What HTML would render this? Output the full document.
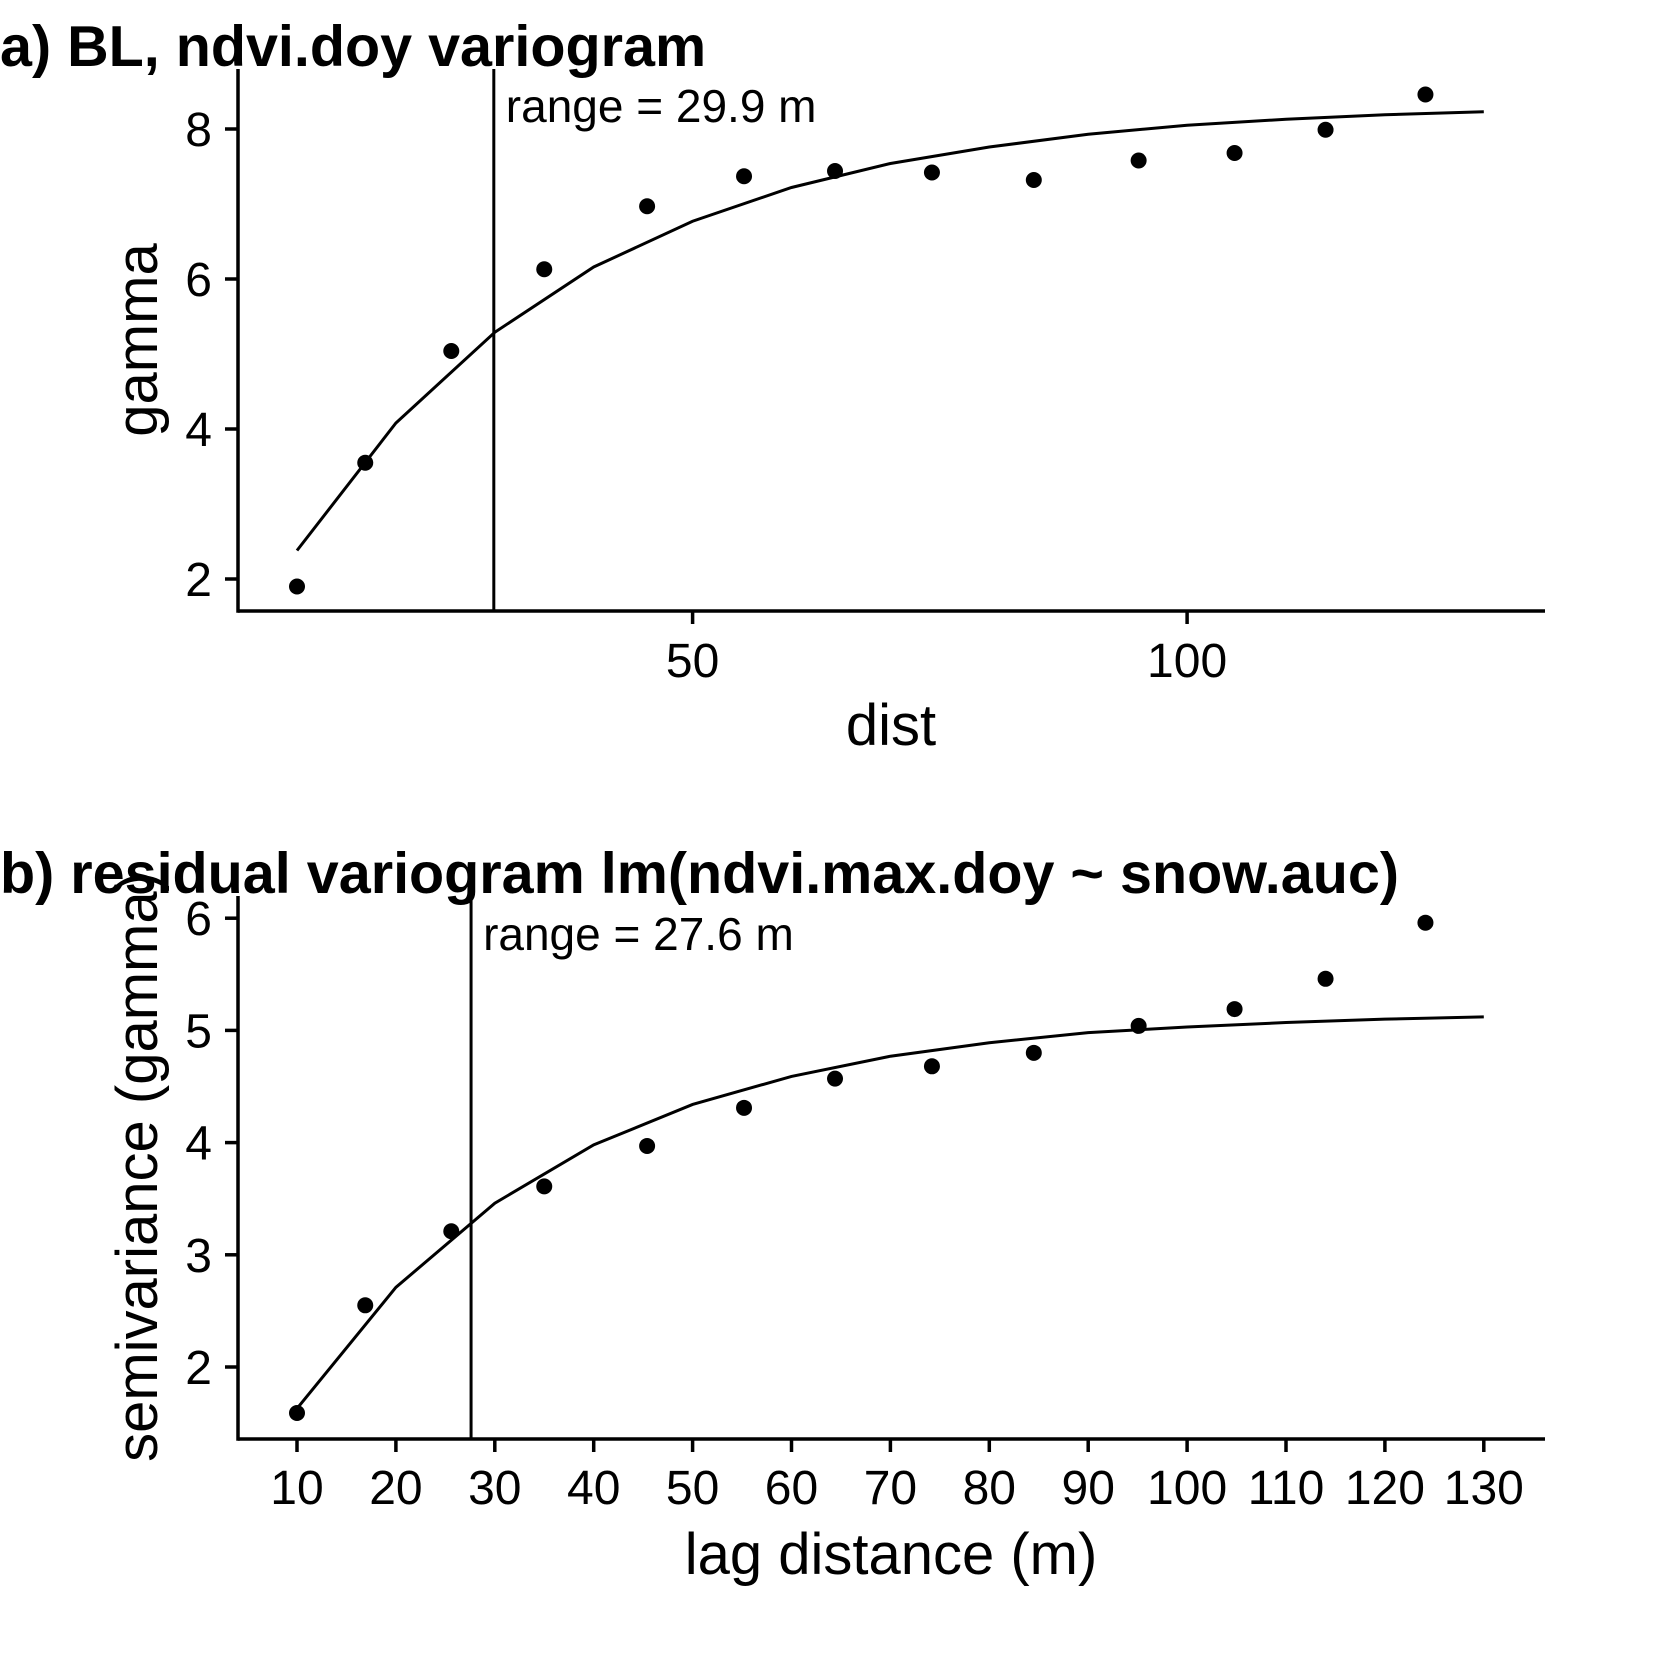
<!DOCTYPE html>
<html><head><meta charset="utf-8"><style>
html,body{margin:0;padding:0;background:#fff}
svg{display:block;font-family:"Liberation Sans",Arial,sans-serif}
</style></head><body>
<svg id="chart" width="1653" height="1653" viewBox="0 0 1653 1653" xmlns="http://www.w3.org/2000/svg"></svg>
<script>
// Panel a data
const aDist = [10,16.9,25.6,35.0,45.4,55.2,64.4,74.2,84.5,95.1,104.8,114.0,124.1];
const aGamma = [1.90,3.55,5.04,6.13,6.97,7.37,7.44,7.42,7.32,7.58,7.68,7.99,8.46];
const aModelDist = [10,20,30,40,50,60,70,80,90,100,110,120,130];
const aModelGamma = [2.38,4.08,5.29,6.16,6.77,7.22,7.54,7.76,7.93,8.05,8.13,8.19,8.23];
const aRange = 29.9;
const aXTicks = [50,100];
const aYTicks = [2,4,6,8];
// Panel b data
const bDist = [10,16.9,25.6,35.0,45.4,55.2,64.4,74.2,84.5,95.1,104.8,114.0,124.1];
const bGamma = [1.59,2.55,3.21,3.61,3.97,4.31,4.57,4.68,4.80,5.04,5.19,5.46,5.96];
const bModelDist = [10,20,30,40,50,60,70,80,90,100,110,120,130];
const bModelGamma = [1.63,2.71,3.46,3.98,4.34,4.59,4.77,4.89,4.98,5.03,5.07,5.10,5.12];
const bRange = 27.6;
const bXTicks = [10,20,30,40,50,60,70,80,90,100,110,120,130];
const bYTicks = [2,3,4,5,6];

const NS = "http://www.w3.org/2000/svg";
const svg = document.getElementById('chart');
function mk(tag, attrs, parent, text){
  const e = document.createElementNS(NS, tag);
  for (const k in attrs) e.setAttribute(k, attrs[k]);
  if (text !== undefined) e.textContent = text;
  (parent||svg).appendChild(e);
  return e;
}
function panel(cfg){
  const g = mk('g', {});
  
  
  const xs = v => 297 + (v-10)*9.89;
  const ys = v => cfg.y0 - (v-cfg.v0)*cfg.k;
  const ax = mk('line',{x1:238,y1:cfg.axisY,x2:1545,y2:cfg.axisY,stroke:'#000','stroke-width':3.5},g);
  
  
  const ay = mk('line',{x1:238,y1:cfg.axisTop,x2:238,y2:cfg.axisY+1.7,stroke:'#000','stroke-width':3.5},g);
  
  
  cfg.xt.forEach(t=>{
    mk('line',{x1:xs(t),y1:cfg.axisY,x2:xs(t),y2:cfg.axisY+13,stroke:'#000','stroke-width':3.5},g);
    const l = mk('text',{x:xs(t),y:cfg.xLabY,'font-size':48,'text-anchor':'middle'},g,String(t));
    
    
  });
  cfg.yt.forEach(t=>{
    mk('line',{x1:225,y1:ys(t),x2:238,y2:ys(t),stroke:'#000','stroke-width':3.5},g);
    const l = mk('text',{x:212,y:ys(t)+17,'font-size':48,'text-anchor':'end'},g,String(t));
    
    
  });
  const pts = cfg.md.map((d,i)=>xs(d)+','+ys(cfg.mg[i])).join(' ');
  const pl = mk('polyline',{points:pts,fill:'none',stroke:'#000','stroke-width':3},g);
  
  
  const rl = mk('line',{x1:xs(cfg.range),y1:cfg.axisTop,x2:xs(cfg.range),y2:cfg.axisY,stroke:'#000','stroke-width':3},g);
  
  
  const rt = mk('text',{x:xs(cfg.range)+12,y:cfg.rangeY,'font-size':46},g,'range = '+cfg.range+' m');
  
  
  cfg.d.forEach((d,i)=>{
    const c = mk('circle',{cx:xs(d),cy:ys(cfg.g[i]),r:8,fill:'#000'},g);
    
    
  });
  const xt = mk('text',{x:891,y:cfg.xTitleY,'font-size':58,'text-anchor':'middle'},g,cfg.xTitle);
  
  
  const yt = mk('text',{x:0,y:0,'font-size':58,'text-anchor':'middle',transform:'translate(157,'+cfg.yTitleC+') rotate(-90)'},g,cfg.yTitle);
  
  
  const tt = mk('text',{x:0,y:cfg.titleY,'font-size':57.5,'font-weight':'bold'},g,cfg.title);
  
  
}
panel({name:'panel-a',y0:579,v0:2,k:75,axisY:611,axisTop:69,xt:aXTicks,yt:aYTicks,xLabY:677,
  d:aDist,g:aGamma,md:aModelDist,mg:aModelGamma,range:aRange,rangeY:122,
  xTitle:'dist',xTitleY:745,yTitle:'gamma',yTitleC:340,titleY:66,title:'a) BL, ndvi.doy variogram'});
panel({name:'panel-b',y0:1367,v0:2,k:112.2,axisY:1439,axisTop:896,xt:bXTicks,yt:bYTicks,xLabY:1504,
  d:bDist,g:bGamma,md:bModelDist,mg:bModelGamma,range:bRange,rangeY:950,
  xTitle:'lag distance (m)',xTitleY:1574,yTitle:'semivariance (gamma)',yTitleC:1167,titleY:893,title:'b) residual variogram lm(ndvi.max.doy ~ snow.auc)'});
</script>
</body></html>
